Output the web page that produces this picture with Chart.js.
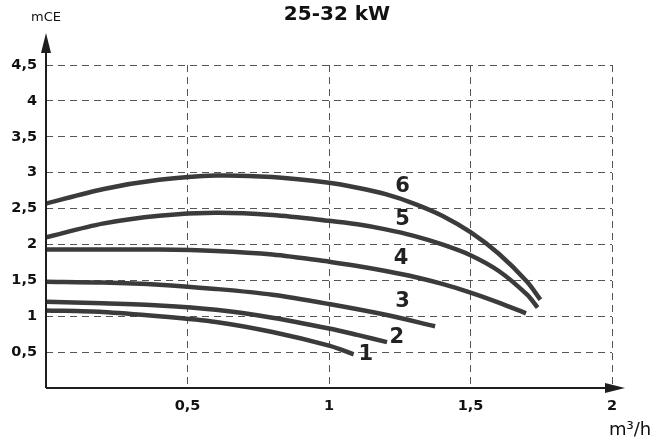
<!DOCTYPE html>
<html>
<head>
<meta charset="utf-8">
<script src="https://cdn.jsdelivr.net/npm/chart.js@4.4.1/dist/chart.umd.min.js"></script>
<style>
  body { margin: 0; background: #fff; }
  #wrap { width: 658px; height: 439px; }
</style>
</head>
<body>
<div id="wrap"><canvas id="pumpChart" width="658" height="439"></canvas></div>
<script>
// pump curves, flow in m3/h and head in mCE
const curveNames = ['1', '2', '3', '4', '5', '6'];
const flow1 = [0, 0.2, 0.4, 0.6, 0.8, 1.0, 1.087];
const head1 = [1.08, 1.06, 1.00, 0.92, 0.78, 0.59, 0.47];
const flow2 = [0, 0.2, 0.4, 0.6, 0.8, 1.0, 1.1, 1.205];
const head2 = [1.20, 1.18, 1.15, 1.09, 0.98, 0.83, 0.74, 0.64];
const flow3 = [0, 0.2, 0.4, 0.6, 0.8, 1.0, 1.2, 1.375];
const head3 = [1.48, 1.47, 1.44, 1.38, 1.30, 1.17, 1.02, 0.86];
const flow4 = [0, 0.2, 0.4, 0.6, 0.8, 1.0, 1.1, 1.2, 1.3, 1.4, 1.5, 1.6, 1.696];
const head4 = [1.93, 1.93, 1.93, 1.91, 1.86, 1.76, 1.70, 1.63, 1.55, 1.45, 1.33, 1.19, 1.04];
const flow5 = [0, 0.2, 0.4, 0.6, 0.8, 1.0, 1.1, 1.2, 1.3, 1.4, 1.5, 1.6, 1.7, 1.737];
const head5 = [2.10, 2.29, 2.40, 2.44, 2.41, 2.33, 2.28, 2.21, 2.12, 2.00, 1.85, 1.63, 1.30, 1.12];
const flow6 = [0, 0.2, 0.4, 0.6, 0.8, 1.0, 1.1, 1.2, 1.3, 1.4, 1.5, 1.6, 1.7, 1.747];
const head6 = [2.57, 2.77, 2.90, 2.96, 2.94, 2.86, 2.79, 2.70, 2.57, 2.40, 2.17, 1.87, 1.48, 1.23];
const flows = [flow1, flow2, flow3, flow4, flow5, flow6];
const heads = [head1, head2, head3, head4, head5, head6];

const xTickLabels = ['', '0,5', '1', '1,5', '2'];
const yTickLabels = ['', '0,5', '1', '1,5', '2', '2,5', '3', '3,5', '4', '4,5'];

const ink = '#3b3b3b';
const tickFont = { family: 'DejaVu Sans', weight: 'bold', size: 14.5 };

// where the curve numbers sit (data units)
const labelSpots = [[1.13, 0.46], [1.24, 0.70], [1.26, 1.21], [1.255, 1.80], [1.26, 2.35], [1.26, 2.81]];

const extras = {
  id: 'extras',
  afterDraw(chart) {
    const ctx = chart.ctx;
    const xs = chart.scales.x, ys = chart.scales.y;
    const x0 = xs.getPixelForValue(0), y0 = ys.getPixelForValue(0);
    ctx.save();
    // axes with arrows
    ctx.strokeStyle = '#1e1e1e';
    ctx.fillStyle = '#1e1e1e';
    ctx.lineWidth = 2;
    ctx.beginPath();
    ctx.moveTo(x0, y0);
    ctx.lineTo(x0, 50);
    ctx.moveTo(x0, y0);
    ctx.lineTo(608, y0);
    ctx.stroke();
    ctx.beginPath();
    ctx.moveTo(x0, 33); ctx.lineTo(x0 - 5, 53); ctx.lineTo(x0 + 5, 53); ctx.closePath();
    ctx.fill();
    ctx.beginPath();
    ctx.moveTo(625, y0); ctx.lineTo(605, y0 - 5); ctx.lineTo(605, y0 + 5); ctx.closePath();
    ctx.fill();

    // texts
    ctx.textAlign = 'center';
    ctx.textBaseline = 'middle';
    ctx.fillStyle = '#111';
    ctx.font = 'bold 20px "DejaVu Sans"';
    ctx.fillText('25-32 kW', 337, 15);
    ctx.font = '13px "DejaVu Sans"';
    ctx.fillText('mCE', 46, 18);
    ctx.font = '18px "DejaVu Sans"';
    ctx.textAlign = 'left';
    ctx.fillText('m³/h', 609, 430);

    ctx.textAlign = 'center';
    ctx.font = 'bold 21px "DejaVu Sans"';
    ctx.fillStyle = '#222';
    labelSpots.forEach((p, i) => {
      ctx.fillText(curveNames[i], xs.getPixelForValue(p[0]), ys.getPixelForValue(p[1]));
    });
    ctx.restore();
  }
};

const gridColor = c => (c.tick && c.tick.value === 0 ? 'rgba(0,0,0,0)' : '#555');

new Chart(document.getElementById('pumpChart'), {
  type: 'line',
  data: {
    datasets: curveNames.map((name, i) => ({
      label: name,
      data: flows[i].map((q, j) => ({ x: q, y: heads[i][j] })),
      borderColor: ink,
      borderWidth: 4.5,
      pointRadius: 0,
      fill: false,
      tension: 0.3
    }))
  },
  options: {
    responsive: false,
    animation: false,
    layout: { padding: { top: 65, right: 46, left: 0, bottom: 0 } },
    plugins: { legend: { display: false }, tooltip: { enabled: false } },
    scales: {
      x: {
        type: 'linear', min: 0, max: 2,
        afterFit(s) { s.height = 51; },
        border: { display: false, dash: [7, 5] },
        grid: { color: gridColor, lineWidth: 1, drawTicks: false },
        ticks: {
          stepSize: 0.5, padding: 10, color: '#111', font: tickFont,
          callback: (v, i) => xTickLabels[i]
        }
      },
      y: {
        min: 0, max: 4.5,
        afterFit(s) { s.width = 46; },
        border: { display: false, dash: [7, 5] },
        grid: { color: gridColor, lineWidth: 1, drawTicks: false },
        ticks: {
          stepSize: 0.5, padding: 9, color: '#111', font: tickFont,
          callback: (v, i) => yTickLabels[i]
        }
      }
    }
  },
  plugins: [extras]
});
</script>
</body>
</html>
